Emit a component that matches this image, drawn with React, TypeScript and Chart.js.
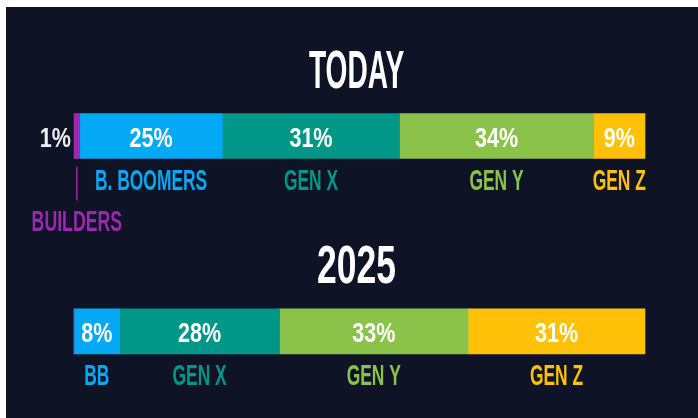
import React, { useEffect, useRef } from "react";
import { Chart, registerables } from "chart.js";

Chart.register(...registerables);

const periods = ["TODAY", "2025"];
const generations = ["Builders", "Baby Boomers", "Gen X", "Gen Y", "Gen Z"];
const builders = [1, 0];
const babyBoomers = [25, 8];
const genX = [31, 28];
const genY = [34, 33];
const genZ = [9, 31];
const labelsToday = ["BUILDERS", "B. BOOMERS", "GEN X", "GEN Y", "GEN Z"];
const labels2025 = ["", "BB", "GEN X", "GEN Y", "GEN Z"];
const colors = ["#9c27b0", "#03a9f4", "#009688", "#8bc34a", "#ffc107"];

const BG = "#0e1326";
const FONT = '"Liberation Sans", Arial, sans-serif';

function drawText(
  ctx: CanvasRenderingContext2D,
  text: string,
  x: number,
  y: number,
  size: number,
  color: string,
  scaleX: number,
  align: CanvasTextAlign = "center"
) {
  ctx.save();
  ctx.translate(x, y);
  ctx.scale(scaleX, 1);
  ctx.font = `bold ${size}px ${FONT}`;
  ctx.fillStyle = color;
  ctx.textAlign = align;
  ctx.textBaseline = "alphabetic";
  ctx.fillText(text, 0, 0);
  ctx.restore();
}

const bgPlugin = {
  id: "bg",
  beforeDraw(chart: any) {
    const ctx = chart.ctx as CanvasRenderingContext2D;
    ctx.save();
    ctx.fillStyle = "#ffffff";
    ctx.fillRect(0, 0, chart.width, chart.height);
    ctx.fillStyle = BG;
    ctx.fillRect(6, 7, chart.width - 6, chart.height - 7);
    ctx.restore();
  },
};

const labelPlugin = {
  id: "labels",
  afterDatasetsDraw(chart: any) {
    const ctx = chart.ctx as CanvasRenderingContext2D;
    const area = chart.chartArea;
    const centerX = (area.left + area.right) / 2 - 3;
    const catLabels = [labelsToday, labels2025];
    const titleScale = [0.53, 0.67];
    periods.forEach((title, j) => {
      const firstMeta = chart.getDatasetMeta(0);
      const el = firstMeta.data[j];
      const top = el.y - el.height / 2;
      drawText(ctx, title, centerX, top - 25.5, 53, "#ffffff", titleScale[j]);
    });
    chart.data.datasets.forEach((ds: any, i: number) => {
      const meta = chart.getDatasetMeta(i);
      meta.data.forEach((el: any, j: number) => {
        const v = ds.data[j];
        if (!v) return;
        const cx = (el.x + el.base) / 2;
        const cy = el.y;
        const bottom = el.y + el.height / 2;
        const label = catLabels[j][i];
        if (v >= 5) {
          drawText(ctx, v + "%", cx, cy + 10.5, 28, "#ffffff", 0.77);
          drawText(ctx, label, cx, bottom + 31.5, 30, colors[i], 0.58);
        } else {
          drawText(ctx, v + "%", Math.min(el.base, el.x) - 3, cy + 10.5, 28, "#eeeeee", 0.77, "right");
          ctx.save();
          ctx.strokeStyle = colors[i];
          ctx.lineWidth = 1.5;
          ctx.beginPath();
          ctx.moveTo(cx, bottom + 8);
          ctx.lineTo(cx, bottom + 42);
          ctx.stroke();
          ctx.restore();
          drawText(ctx, label, cx, bottom + 72, 30, colors[i], 0.59);
        }
      });
    });
  },
};

export default function App() {
  const ref = useRef<HTMLCanvasElement | null>(null);
  useEffect(() => {
    document.body.style.margin = "0";
    document.body.style.background = "#ffffff";
    const series = [builders, babyBoomers, genX, genY, genZ];
    const chart = new Chart(ref.current as HTMLCanvasElement, {
      type: "bar",
      data: {
        labels: periods,
        datasets: generations.map((g, i) => ({
          label: g,
          data: series[i],
          backgroundColor: colors[i],
          borderWidth: 0,
          barThickness: 45,
          clip: false as any,
        })),
      },
      options: {
        indexAxis: "y",
        responsive: false,
        animation: false,
        layout: { padding: { left: 74, right: 53, top: 136, bottom: 86.7 } },
        scales: {
          x: { type: "linear", min: 0, max: 100, stacked: true, display: false },
          y: { type: "category", stacked: true, display: false, offset: false },
        },
        plugins: {
          legend: { display: false },
          tooltip: { enabled: false },
        },
      },
      plugins: [bgPlugin, labelPlugin],
    });
    return () => chart.destroy();
  }, []);
  return (
    <div style={{ width: 698, height: 418 }}>
      <canvas ref={ref} width={698} height={418} style={{ display: "block" }} />
    </div>
  );
}
